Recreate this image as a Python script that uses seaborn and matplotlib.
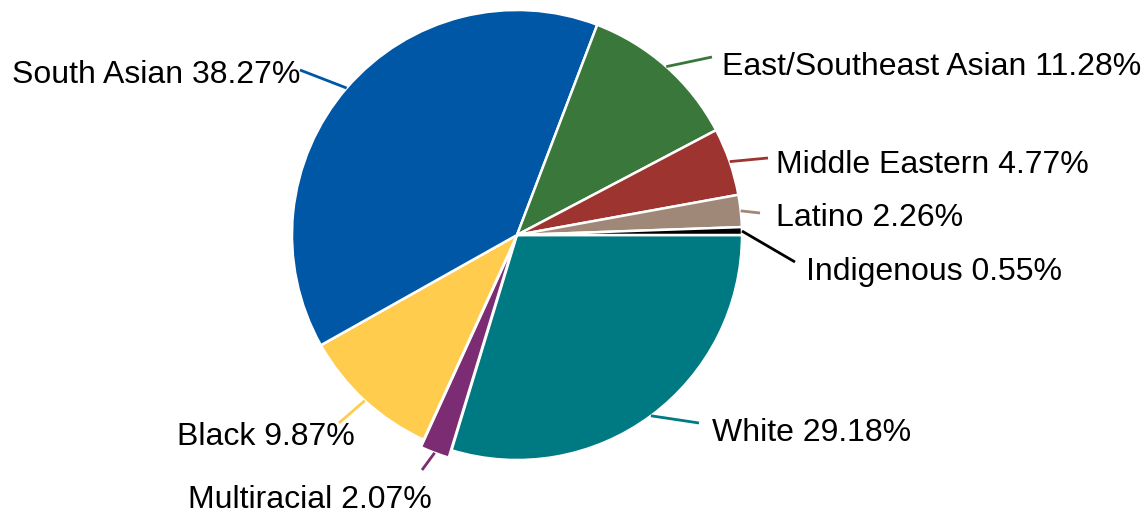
import numpy as np
import seaborn as sns
import matplotlib.pyplot as plt

# data, in drawing order (clockwise from 3 o'clock)
groups = ["White", "Multiracial", "Black", "South Asian", "East/Southeast Asian",
          "Middle Eastern", "Latino", "Indigenous"]
shares = [29.18, 2.07, 9.87, 38.27, 11.28, 4.77, 2.26, 0.55]
colors = ["#007A82", "#7B2C72", "#FFCC4E", "#0057A6", "#3A773A",
          "#9E3430", "#A08878", "#000000"]

# layout (pixel coords, y down): label anchor, leader end, alignment
label_xy = [(712, 433), (432, 500), (355, 437), (300, 75), (722, 67),
            (776, 165), (776, 218), (806, 272)]
line_end = [(699, 423), (422, 470), (339, 423), (300, 70), (712, 57),
            (768, 158), (760, 213), (795, 262)]
label_ha = ["left", "right", "right", "right", "left", "left", "left", "left"]

W, H = 1145, 517
cx, cy, R = 517, H - 235, 225

sns.set_theme(style="white")
plt.rcParams["font.family"] = ["Liberation Sans", "DejaVu Sans"]

fig = plt.figure(figsize=(W / 100, H / 100), dpi=100)
ax = fig.add_axes([0, 0, 1, 1])

explode = [0, 0.035, 0, 0, 0, 0, 0, 0]
wedges, _ = ax.pie(shares, colors=colors, startangle=0, counterclock=False,
                   center=(cx, cy), radius=R, explode=[e * R for e in explode],
                   wedgeprops=dict(edgecolor="white", linewidth=1.8))

for w, g, v, c, (tx, ty), (lx, ly), ha in zip(wedges, groups, shares, colors,
                                                label_xy, line_end, label_ha):
    mid = np.deg2rad((w.theta1 + w.theta2) / 2)
    px, py = w.center[0] + R * np.cos(mid), w.center[1] + R * np.sin(mid)
    ax.plot([px, lx], [py, H - ly], color=c, lw=2, solid_capstyle="butt")
    ax.text(tx, H - ty, f"{g} {v:.2f}%", ha=ha, va="center", fontsize=23,
            color="black")

ax.set_xlim(0, W)
ax.set_ylim(0, H)
ax.set_aspect("equal")
ax.axis("off")

fig.savefig("out.png", dpi=100)
